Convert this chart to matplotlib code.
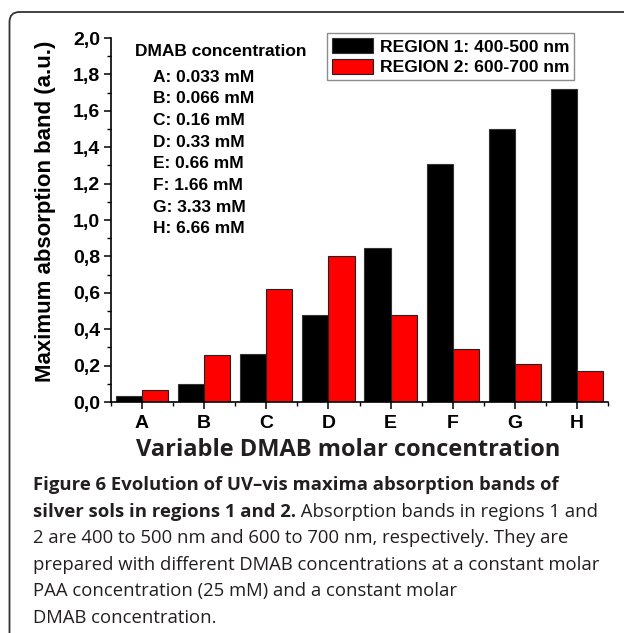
import numpy as np
import matplotlib
matplotlib.use('Agg')
import matplotlib.pyplot as plt
from matplotlib.patches import FancyBboxPatch
from matplotlib.transforms import IdentityTransform
from matplotlib.ticker import MultipleLocator, FuncFormatter

# Data
categories = ['A', 'B', 'C', 'D', 'E', 'F', 'G', 'H']
concentrations = ['0.033', '0.066', '0.16', '0.33', '0.66', '1.66', '3.33', '6.66']
region1 = [0.033, 0.099, 0.262, 0.48, 0.846, 1.31, 1.50, 1.72]
region2 = [0.066, 0.258, 0.62, 0.80, 0.476, 0.29, 0.209, 0.17]
legend_labels = ['REGION 1: 400-500 nm', 'REGION 2: 600-700 nm']

caption_bold = ['Figure 6 Evolution of UV\u2013vis maxima absorption bands of',
                'silver sols in regions 1 and 2.']
caption_rest = [' Absorption bands in regions 1 and',
                '2 are 400 to 500 nm and 600 to 700 nm, respectively. They are',
                'prepared with different DMAB concentrations at a constant molar',
                'PAA concentration (25 mM) and a constant molar',
                'DMAB concentration.']

W, H = 624, 633
ARIAL = 'Liberation Sans'
CAP = 'Open Sans'
CAP_COLOR = '#231f20'
CAP_SIZE = 13.3


def px(x, y):
    # pixel coords from top-left -> figure fraction
    return x / W, 1 - y / H


fig = plt.figure(figsize=(W / 100, H / 100), dpi=100)
ax = fig.add_axes([111 / W, 1 - 402 / H, (608 - 111) / W, (402 - 38) / H])

x = np.arange(1, len(categories) + 1)
bw = 0.42
ax.bar(x - bw / 2, region1, bw, color='black', edgecolor='#333333', linewidth=0.8,
       label=legend_labels[0])
ax.bar(x + bw / 2, region2, bw, color='#ff0000', edgecolor='#222222', linewidth=0.8,
       label=legend_labels[1])

ax.set_xlim(0.5, len(categories) + 0.5)
ax.set_ylim(0, 2.0)
ax.set_xticks(x)
ax.set_xticklabels(categories)
ax.xaxis.set_minor_locator(MultipleLocator(1, offset=0.5))
ax.yaxis.set_major_locator(MultipleLocator(0.2))
ax.yaxis.set_minor_locator(MultipleLocator(0.1))
ax.yaxis.set_major_formatter(FuncFormatter(lambda v, p: f'{v:.1f}'.replace('.', ',')))

for s in ['top', 'right']:
    ax.spines[s].set_visible(False)
for s in ['left', 'bottom']:
    ax.spines[s].set_linewidth(1.2)

ax.tick_params(which='major', direction='out', length=5, width=1.1)
ax.tick_params(which='minor', direction='out', length=3, width=1.0)
ax.tick_params(axis='y', which='major', pad=3)
ax.tick_params(axis='x', which='major', pad=4)
for lab in ax.get_xticklabels() + ax.get_yticklabels():
    lab.set_fontfamily(ARIAL)
    lab.set_fontweight('bold')
    lab.set_fontsize(14)

# legend
leg = ax.legend(loc='upper left', bbox_to_anchor=px(327, 33), bbox_transform=fig.transFigure,
                borderaxespad=0, fancybox=False, framealpha=1, edgecolor='#8c8c8c',
                prop={'family': ARIAL, 'weight': 'bold', 'size': 12.6},
                handlelength=2.3, handleheight=0.95, handletextpad=0.4,
                borderpad=0.3, labelspacing=0.22)
leg.get_frame().set_linewidth(1.0)

# concentration list inside the plot
fig.text(*px(135, 52), 'DMAB concentration', family=ARIAL, weight='bold', size=12.5,
         va='center', ha='left')
for i, (c, v) in enumerate(zip(categories, concentrations)):
    fig.text(*px(153, 77 + 21.7 * i), f'{c}: {v} mM', family=ARIAL, weight='bold',
             size=12.5, va='center', ha='left')

# axis titles
fig.text(*px(46, 211), 'Maximum absorption band (a.u.)', family=ARIAL, weight='bold',
         size=16, rotation=90, ha='center', va='center')
fig.text(*px(348, 450), 'Variable DMAB molar concentration', family=CAP, weight='bold',
         size=17, ha='center', va='center', color=CAP_COLOR)

# caption
line_y = [485 + 26.6 * i for i in range(6)]
fig.text(*px(33, line_y[0]), caption_bold[0], family=CAP, weight='bold', size=CAP_SIZE,
         va='center', ha='left', color=CAP_COLOR)
t2 = fig.text(*px(33, line_y[1]), caption_bold[1], family=CAP, weight='bold', size=CAP_SIZE,
              va='center', ha='left', color=CAP_COLOR)
fig.canvas.draw()
bb = t2.get_window_extent(fig.canvas.get_renderer())
fig.text(bb.x1 / W, 1 - line_y[1] / H, caption_rest[0], family=CAP, size=CAP_SIZE,
         va='center', ha='left', color=CAP_COLOR)
for i, line in enumerate(caption_rest[1:]):
    fig.text(*px(33, line_y[i + 2]), line, family=CAP, size=CAP_SIZE, va='center', ha='left',
             color=CAP_COLOR)

# rounded frame around the whole figure
frame = FancyBboxPatch((9.5, -30), 700, H - 12 + 30, boxstyle='round,pad=0,rounding_size=10',
                       transform=IdentityTransform(), fill=False, edgecolor='#333333',
                       linewidth=1.3)
fig.add_artist(frame)

fig.savefig('out.png', dpi=100)
